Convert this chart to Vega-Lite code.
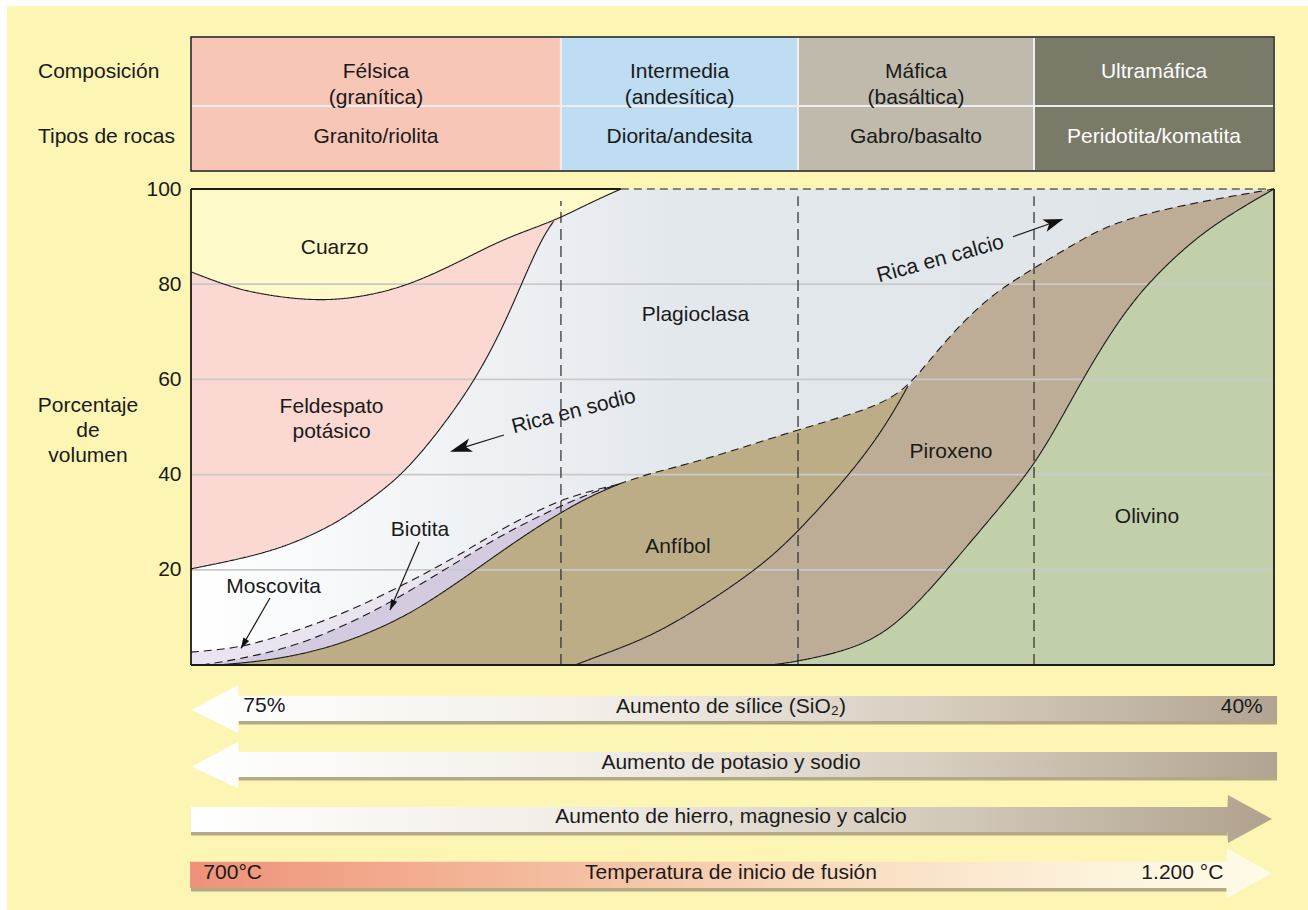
{
  "$schema": "https://vega.github.io/schema/vega-lite/v6.json",
  "width": 1308,
  "height": 910,
  "padding": 0,
  "autosize": {"type": "none"},
  "background": "#fdf5b3",
  "config": {
    "view": {"stroke": null},
    "font": "Liberation Sans",
    "text": {"font": "Liberation Sans", "fontSize": 21, "color": "#1a1a1a"}
  },
  "datasets": {
    "lines": [
      {"s": "Q", "kind": "sharp", "u": 0, "v": 82.6}, {"s": "Q", "kind": "sharp", "u": 2.59, "v": 80.3}, {"s": "Q", "kind": "sharp", "u": 5.68, "v": 78.1}, {"s": "Q", "kind": "sharp", "u": 11.51, "v": 76.3}, {"s": "Q", "kind": "sharp", "u": 16.16, "v": 77.4}, {"s": "Q", "kind": "sharp", "u": 20.4, "v": 80.0}, {"s": "Q", "kind": "sharp", "u": 25.12, "v": 85.1}, {"s": "Q", "kind": "sharp", "u": 28.99, "v": 89.7}, {"s": "Q", "kind": "sharp", "u": 33.47, "v": 93.2}, {"s": "Q", "kind": "sharp", "u": 36.75, "v": 97.0}, {"s": "Q", "kind": "sharp", "u": 39.69, "v": 100},
      {"s": "K", "kind": "sharp", "u": 0, "v": 20.2}, {"s": "K", "kind": "sharp", "u": 5.68, "v": 22.8}, {"s": "K", "kind": "sharp", "u": 9.57, "v": 25.6}, {"s": "K", "kind": "sharp", "u": 13.45, "v": 29.8}, {"s": "K", "kind": "sharp", "u": 16.53, "v": 34.7}, {"s": "K", "kind": "sharp", "u": 19.48, "v": 39.9}, {"s": "K", "kind": "sharp", "u": 22.78, "v": 48.7}, {"s": "K", "kind": "sharp", "u": 26.28, "v": 59.9}, {"s": "K", "kind": "sharp", "u": 28.99, "v": 71.8}, {"s": "K", "kind": "sharp", "u": 30.93, "v": 82.3}, {"s": "K", "kind": "sharp", "u": 32.5, "v": 90.0}, {"s": "K", "kind": "sharp", "u": 33.47, "v": 93.2},
      {"s": "M", "kind": "gradual", "u": 0, "v": 2.7}, {"s": "M", "kind": "gradual", "u": 4.13, "v": 3.5}, {"s": "M", "kind": "gradual", "u": 7.63, "v": 5.6}, {"s": "M", "kind": "gradual", "u": 13.45, "v": 10.1}, {"s": "M", "kind": "gradual", "u": 19.3, "v": 16.4}, {"s": "M", "kind": "gradual", "u": 25.12, "v": 23.5}, {"s": "M", "kind": "gradual", "u": 28.99, "v": 29.1}, {"s": "M", "kind": "gradual", "u": 34.07, "v": 34.7}, {"s": "M", "kind": "gradual", "u": 37.0, "v": 36.6}, {"s": "M", "kind": "gradual", "u": 39.5, "v": 38.0},
      {"s": "Bt", "kind": "gradual", "u": 1.0, "v": 0}, {"s": "Bt", "kind": "gradual", "u": 4.13, "v": 1.1}, {"s": "Bt", "kind": "gradual", "u": 9.57, "v": 3.8}, {"s": "Bt", "kind": "gradual", "u": 15.39, "v": 9.5}, {"s": "Bt", "kind": "gradual", "u": 19.3, "v": 14.3}, {"s": "Bt", "kind": "gradual", "u": 25.12, "v": 22.4}, {"s": "Bt", "kind": "gradual", "u": 28.99, "v": 27.7}, {"s": "Bt", "kind": "gradual", "u": 34.07, "v": 33.4}, {"s": "Bt", "kind": "gradual", "u": 37.0, "v": 36.2}, {"s": "Bt", "kind": "gradual", "u": 39.5, "v": 38.0},
      {"s": "A", "kind": "sharp", "u": 2.5, "v": 0}, {"s": "A", "kind": "sharp", "u": 7.63, "v": 1.0}, {"s": "A", "kind": "sharp", "u": 13.45, "v": 3.9}, {"s": "A", "kind": "sharp", "u": 19.3, "v": 9.5}, {"s": "A", "kind": "sharp", "u": 23.18, "v": 15.1}, {"s": "A", "kind": "sharp", "u": 26.28, "v": 20.0}, {"s": "A", "kind": "sharp", "u": 30.17, "v": 26.3}, {"s": "A", "kind": "sharp", "u": 34.07, "v": 32.0}, {"s": "A", "kind": "sharp", "u": 37.0, "v": 35.6}, {"s": "A", "kind": "sharp", "u": 39.5, "v": 38.0},
      {"s": "D", "kind": "gradual", "u": 39.5, "v": 38.0}, {"s": "D", "kind": "gradual", "u": 42.38, "v": 40.3}, {"s": "D", "kind": "gradual", "u": 47.0, "v": 42.8}, {"s": "D", "kind": "gradual", "u": 55.96, "v": 49.4}, {"s": "D", "kind": "gradual", "u": 61.77, "v": 53.2}, {"s": "D", "kind": "gradual", "u": 64.3, "v": 55.6}, {"s": "D", "kind": "gradual", "u": 66.2, "v": 58.6}, {"s": "D", "kind": "gradual", "u": 68.0, "v": 63.4}, {"s": "D", "kind": "gradual", "u": 70.27, "v": 69.7}, {"s": "D", "kind": "gradual", "u": 73.38, "v": 76.7}, {"s": "D", "kind": "gradual", "u": 76.08, "v": 80.9}, {"s": "D", "kind": "gradual", "u": 77.84, "v": 83.4}, {"s": "D", "kind": "gradual", "u": 81.13, "v": 87.9}, {"s": "D", "kind": "gradual", "u": 85.0, "v": 92.9}, {"s": "D", "kind": "gradual", "u": 90.82, "v": 96.3}, {"s": "D", "kind": "gradual", "u": 96.63, "v": 98.7}, {"s": "D", "kind": "gradual", "u": 100, "v": 100},
      {"s": "P", "kind": "sharp", "u": 35.46, "v": 0}, {"s": "P", "kind": "sharp", "u": 37.77, "v": 2.0}, {"s": "P", "kind": "sharp", "u": 42.38, "v": 5.9}, {"s": "P", "kind": "sharp", "u": 47.0, "v": 12.0}, {"s": "P", "kind": "sharp", "u": 52.45, "v": 20.4}, {"s": "P", "kind": "sharp", "u": 55.96, "v": 27.7}, {"s": "P", "kind": "sharp", "u": 60.94, "v": 40.3}, {"s": "P", "kind": "sharp", "u": 64.08, "v": 50.0}, {"s": "P", "kind": "sharp", "u": 66.2, "v": 58.6},
      {"s": "O", "kind": "sharp", "u": 53.5, "v": 0}, {"s": "O", "kind": "sharp", "u": 55.96, "v": 0.7}, {"s": "O", "kind": "sharp", "u": 61.77, "v": 3.6}, {"s": "O", "kind": "sharp", "u": 65.65, "v": 9.3}, {"s": "O", "kind": "sharp", "u": 69.9, "v": 20.2}, {"s": "O", "kind": "sharp", "u": 73.41, "v": 29.7}, {"s": "O", "kind": "sharp", "u": 77.29, "v": 40.2}, {"s": "O", "kind": "sharp", "u": 79.59, "v": 48.6}, {"s": "O", "kind": "sharp", "u": 82.27, "v": 59.8}, {"s": "O", "kind": "sharp", "u": 85.04, "v": 70.3}, {"s": "O", "kind": "sharp", "u": 88.09, "v": 79.8}, {"s": "O", "kind": "sharp", "u": 92.8, "v": 89.9}, {"s": "O", "kind": "sharp", "u": 96.63, "v": 95.6}, {"s": "O", "kind": "sharp", "u": 100, "v": 100}
    ],
    "cells": [
      {"grp": "Félsica", "u": 0, "u2": 34.16, "v": 131.94, "v2": 117.44, "uc": 17.08, "vc": 124.58, "label": "Félsica\n(granítica)"},
      {"grp": "Intermedia", "u": 34.16, "u2": 56.05, "v": 131.94, "v2": 117.44, "uc": 45.11, "vc": 124.58, "label": "Intermedia\n(andesítica)"},
      {"grp": "Máfica", "u": 56.05, "u2": 77.84, "v": 131.94, "v2": 117.44, "uc": 66.94, "vc": 124.58, "label": "Máfica\n(basáltica)"},
      {"grp": "Ultramáfica", "u": 77.84, "u2": 100, "v": 131.94, "v2": 117.44, "uc": 88.92, "vc": 124.58, "label": "Ultramáfica"},
      {"grp": "Félsica", "u": 0, "u2": 34.16, "v": 117.44, "v2": 103.78, "uc": 17.08, "vc": 110.93, "label": "Granito/riolita"},
      {"grp": "Intermedia", "u": 34.16, "u2": 56.05, "v": 117.44, "v2": 103.78, "uc": 45.11, "vc": 110.93, "label": "Diorita/andesita"},
      {"grp": "Máfica", "u": 56.05, "u2": 77.84, "v": 117.44, "v2": 103.78, "uc": 66.94, "vc": 110.93, "label": "Gabro/basalto"},
      {"grp": "Ultramáfica", "u": 77.84, "u2": 100, "v": 117.44, "v2": 103.78, "uc": 88.92, "vc": 110.93, "label": "Peridotita/komatita"}
    ]
  },
  "encoding": {
    "x": {"field": "u", "type": "quantitative", "scale": {"domain": [-17.636, 103.139], "nice": false, "zero": false}, "axis": null},
    "y": {"field": "v", "type": "quantitative", "scale": {"domain": [-51.47, 139.71], "nice": false, "zero": false},
      "axis": {"values": [20, 40, 60, 80, 100], "offset": -191, "domain": false, "ticks": false, "grid": false, "labelFontSize": 21, "labelFont": "Liberation Sans", "labelColor": "#1a1a1a", "labelPadding": 10, "title": null}}
  },
  "layer": [
    {
      "data": {"values": [{"u": -17.636, "u2": 103.139, "v": 139.71, "v2": 138.45}, {"u": -17.636, "u2": -16.99, "v": 139.71, "v2": -51.47}]},
      "mark": {"type": "rect", "color": "#ffffff"},
      "encoding": {"x2": {"field": "u2"}, "y2": {"field": "v2"}}
    },
    {
      "data": {"name": "cells"},
      "mark": {"type": "rect", "stroke": "#eeeeee", "strokeWidth": 2},
      "encoding": {
        "x2": {"field": "u2"}, "y2": {"field": "v2"},
        "color": {"field": "grp", "type": "nominal", "scale": {"domain": ["Félsica", "Intermedia", "Máfica", "Ultramáfica"], "range": ["#f8c6b7", "#bedcf2", "#bfbaab", "#7a7a69"]}, "legend": null}
      }
    },
    {
      "data": {"values": [{"u": 0, "u2": 100, "v": 131.94, "v2": 103.78}]},
      "mark": {"type": "rect", "fillOpacity": 0, "stroke": "#1a1a1a", "strokeWidth": 1.5},
      "encoding": {"x2": {"field": "u2"}, "y2": {"field": "v2"}}
    },
    {
      "data": {"name": "cells"},
      "mark": {"type": "text", "align": "center", "baseline": "middle", "lineBreak": "\n", "lineHeight": 26},
      "encoding": {
        "x": {"field": "uc", "type": "quantitative"}, "y": {"field": "vc", "type": "quantitative"},
        "text": {"field": "label"},
        "color": {"condition": {"test": "datum.grp === 'Ultramáfica'", "value": "#ffffff"}, "value": "#1a1a1a"}
      }
    },
    {
      "data": {"values": [{"u": -14.13, "v": 124.58, "t": "Composición"}, {"u": -14.13, "v": 110.93, "t": "Tipos de rocas"}]},
      "mark": {"type": "text", "align": "left", "baseline": "middle"},
      "encoding": {"text": {"field": "t"}}
    },
    {
      "data": {"values": [{"u": 0, "v": 100}, {"u": 100, "v": 100}]},
      "mark": {"type": "area", "color": "#fef9c8"},
      "encoding": {"y2": {"datum": 0}}
    },
    {
      "data": {"values": [{"u": 0, "v": 82.6}, {"u": 2.59, "v": 80.3}, {"u": 5.68, "v": 78.1}, {"u": 11.51, "v": 76.3}, {"u": 16.16, "v": 77.4}, {"u": 20.4, "v": 80.0}, {"u": 25.12, "v": 85.1}, {"u": 28.99, "v": 89.7}, {"u": 33.47, "v": 93.2}, {"u": 36.75, "v": 97.0}, {"u": 39.69, "v": 100}]},
      "mark": {"type": "area", "interpolate": "basis", "color": "#fbd8d2"},
      "encoding": {"y2": {"datum": 0}}
    },
    {
      "data": {"values": [{"u": 0, "v": 20.2}, {"u": 5.68, "v": 22.8}, {"u": 9.57, "v": 25.6}, {"u": 13.45, "v": 29.8}, {"u": 16.53, "v": 34.7}, {"u": 19.48, "v": 39.9}, {"u": 22.78, "v": 48.7}, {"u": 26.28, "v": 59.9}, {"u": 28.99, "v": 71.8}, {"u": 30.93, "v": 82.3}, {"u": 32.5, "v": 90.0}, {"u": 33.47, "v": 93.2}, {"u": 36.75, "v": 97.0}, {"u": 39.69, "v": 100}, {"u": 41, "v": 100}, {"u": 43, "v": 100}, {"u": 46, "v": 100}, {"u": 100, "v": 100}]},
      "mark": {"type": "area", "interpolate": "basis", "color": {"gradient": "linear", "x1": 0, "y1": 0, "x2": 1, "y2": 0, "stops": [{"offset": 0, "color": "#ffffff"}, {"offset": 0.45, "color": "#e3e8ed"}, {"offset": 1, "color": "#dfe4e9"}]}},
      "encoding": {"y2": {"datum": 0}}
    },
    {
      "data": {"values": [{"u": 0, "v": 2.7}, {"u": 4.13, "v": 3.5}, {"u": 7.63, "v": 5.6}, {"u": 13.45, "v": 10.1}, {"u": 19.3, "v": 16.4}, {"u": 25.12, "v": 23.5}, {"u": 28.99, "v": 29.1}, {"u": 34.07, "v": 34.7}, {"u": 37.0, "v": 36.6}, {"u": 39.5, "v": 38.0}]},
      "mark": {"type": "area", "interpolate": "basis", "color": "#e9e4ef"},
      "encoding": {"y2": {"datum": 0}}
    },
    {
      "data": {"values": [{"u": 1.0, "v": 0}, {"u": 4.13, "v": 1.1}, {"u": 9.57, "v": 3.8}, {"u": 15.39, "v": 9.5}, {"u": 19.3, "v": 14.3}, {"u": 25.12, "v": 22.4}, {"u": 28.99, "v": 27.7}, {"u": 34.07, "v": 33.4}, {"u": 37.0, "v": 36.2}, {"u": 39.5, "v": 38.0}]},
      "mark": {"type": "area", "interpolate": "basis", "color": "#d5cbe1"},
      "encoding": {"y2": {"datum": 0}}
    },
    {
      "data": {"values": [{"u": 2.5, "v": 0}, {"u": 7.63, "v": 1.0}, {"u": 13.45, "v": 3.9}, {"u": 19.3, "v": 9.5}, {"u": 23.18, "v": 15.1}, {"u": 26.28, "v": 20.0}, {"u": 30.17, "v": 26.3}, {"u": 34.07, "v": 32.0}, {"u": 37.0, "v": 35.6}, {"u": 39.5, "v": 38.0}, {"u": 42.38, "v": 40.3}, {"u": 47.0, "v": 42.8}, {"u": 55.96, "v": 49.4}, {"u": 61.77, "v": 53.2}, {"u": 64.3, "v": 55.6}, {"u": 66.2, "v": 58.6}]},
      "mark": {"type": "area", "interpolate": "basis", "color": "#bcad87"},
      "encoding": {"y2": {"datum": 0}}
    },
    {
      "data": {"values": [{"u": 35.46, "v": 0}, {"u": 37.77, "v": 2.0}, {"u": 42.38, "v": 5.9}, {"u": 47.0, "v": 12.0}, {"u": 52.45, "v": 20.4}, {"u": 55.96, "v": 27.7}, {"u": 60.94, "v": 40.3}, {"u": 64.08, "v": 50.0}, {"u": 66.2, "v": 58.6}, {"u": 68.0, "v": 63.4}, {"u": 70.27, "v": 69.7}, {"u": 73.38, "v": 76.7}, {"u": 76.08, "v": 80.9}, {"u": 77.84, "v": 83.4}, {"u": 81.13, "v": 87.9}, {"u": 85.0, "v": 92.9}, {"u": 90.82, "v": 96.3}, {"u": 96.63, "v": 98.7}, {"u": 100, "v": 100}]},
      "mark": {"type": "area", "interpolate": "basis", "color": "#bdad97"},
      "encoding": {"y2": {"datum": 0}}
    },
    {
      "data": {"values": [{"u": 53.5, "v": 0}, {"u": 55.96, "v": 0.7}, {"u": 61.77, "v": 3.6}, {"u": 65.65, "v": 9.3}, {"u": 69.9, "v": 20.2}, {"u": 73.41, "v": 29.7}, {"u": 77.29, "v": 40.2}, {"u": 79.59, "v": 48.6}, {"u": 82.27, "v": 59.8}, {"u": 85.04, "v": 70.3}, {"u": 88.09, "v": 79.8}, {"u": 92.8, "v": 89.9}, {"u": 96.63, "v": 95.6}, {"u": 100, "v": 100}]},
      "mark": {"type": "area", "interpolate": "basis", "color": "#c1cfaa"},
      "encoding": {"y2": {"datum": 0}}
    },
    {
      "data": {"values": [{"u": 0, "u2": 100, "v": 20}, {"u": 0, "u2": 100, "v": 40}, {"u": 0, "u2": 100, "v": 60}, {"u": 0, "u2": 100, "v": 80}]},
      "mark": {"type": "rule", "color": "#c9c9c9", "strokeWidth": 1.8},
      "encoding": {"x2": {"field": "u2"}}
    },
    {
      "data": {"values": [{"u": 34.16, "v": 0, "v2": 97.5}, {"u": 56.05, "v": 0, "v2": 98.5}, {"u": 77.84, "v": 0, "v2": 98.5}]},
      "mark": {"type": "rule", "color": "#2a2a2a", "strokeWidth": 1.2, "strokeDash": [11, 6]},
      "encoding": {"y2": {"field": "v2"}}
    },
    {
      "data": {"name": "lines"},
      "mark": {"type": "line", "interpolate": "basis", "color": "#1a1a1a", "strokeWidth": 1.1},
      "encoding": {
        "detail": {"field": "s"},
        "strokeDash": {"field": "kind", "type": "nominal", "scale": {"domain": ["sharp", "gradual"], "range": [[1, 0], [8, 5]]}, "legend": null}
      }
    },
    {
      "data": {"values": [{"u": 0, "u2": 0, "v": 0, "v2": 100}, {"u": 100, "u2": 100, "v": 0, "v2": 100}, {"u": 0, "u2": 100, "v": 0, "v2": 0}, {"u": 0, "u2": 39.69, "v": 100, "v2": 100}]},
      "mark": {"type": "rule", "color": "#1a1a1a", "strokeWidth": 1.8},
      "encoding": {"x2": {"field": "u2"}, "y2": {"field": "v2"}}
    },
    {
      "data": {"values": [{"u": 39.69, "u2": 100, "v": 100}]},
      "mark": {"type": "rule", "color": "#1a1a1a", "strokeWidth": 1.2, "strokeDash": [8, 5]},
      "encoding": {"x2": {"field": "u2"}}
    },
    {
      "data": {"values": [
        {"u": 13.26, "v": 87.54, "t": "Cuarzo"},
        {"u": 12.98, "v": 54.24, "t": "Feldespato\npotásico"},
        {"u": 46.58, "v": 73.53, "t": "Plagioclasa"},
        {"u": 7.63, "v": 16.3, "t": "Moscovita"},
        {"u": 21.15, "v": 28.36, "t": "Biotita"},
        {"u": 44.97, "v": 24.8, "t": "Anfíbol"},
        {"u": 70.18, "v": 44.81, "t": "Piroxeno"},
        {"u": 88.27, "v": 31.16, "t": "Olivino"},
        {"u": -9.51, "v": 54.35, "t": "Porcentaje\nde\nvolumen"}
      ]},
      "mark": {"type": "text", "align": "center", "baseline": "middle", "lineBreak": "\n", "lineHeight": 25},
      "encoding": {"text": {"field": "t"}}
    },
    {
      "data": {"values": [{"u": 35.34, "v": 53.19, "t": "Rica en sodio"}]},
      "mark": {"type": "text", "align": "center", "baseline": "middle", "angle": -14.5},
      "encoding": {"text": {"field": "t"}}
    },
    {
      "data": {"values": [{"u": 69.2, "v": 85.23, "t": "Rica en calcio"}]},
      "mark": {"type": "text", "align": "center", "baseline": "middle", "angle": -15.4},
      "encoding": {"text": {"field": "t"}}
    },
    {
      "data": {"values": [
        {"a": "sodio", "u": 28.9, "v": 48.32}, {"a": "sodio", "u": 24.885, "v": 45.51},
        {"a": "calcio", "u": 75.9, "v": 89.98}, {"a": "calcio", "u": 79.68, "v": 93.01},
        {"a": "mosc", "u": 7.29, "v": 14.08}, {"a": "mosc", "u": 4.62, "v": 3.51},
        {"a": "biot", "u": 21.08, "v": 25.9}, {"a": "biot", "u": 18.375, "v": 11.56}
      ]},
      "mark": {"type": "line", "color": "#1a1a1a", "strokeWidth": 1.2},
      "encoding": {"detail": {"field": "a"}}
    },
    {
      "data": {"values": [{"u": 24.885, "v": 45.51}]},
      "mark": {"type": "point", "shape": "M1,0L-1,-0.62L-0.5,0L-1,0.62Z", "filled": true, "color": "#111111", "opacity": 1, "size": 484, "angle": 162.8, "strokeWidth": 0}
    },
    {
      "data": {"values": [{"u": 79.68, "v": 93.01}]},
      "mark": {"type": "point", "shape": "M1,0L-1,-0.65L-0.5,0L-1,0.65Z", "filled": true, "color": "#111111", "opacity": 1, "size": 400, "angle": -19.4, "strokeWidth": 0}
    },
    {
      "data": {"values": [{"u": 4.85, "v": 4.41}]},
      "mark": {"type": "point", "shape": "M1,0L-1,-0.6L-1,0.6Z", "filled": true, "color": "#111111", "opacity": 1, "size": 121, "angle": 120.0, "strokeWidth": 0}
    },
    {
      "data": {"values": [{"u": 18.56, "v": 12.52}]},
      "mark": {"type": "point", "shape": "M1,0L-1,-0.6L-1,0.6Z", "filled": true, "color": "#111111", "opacity": 1, "size": 121, "angle": 113.2, "strokeWidth": 0}
    },
    {
      "data": {"values": [
        {"a": "a1", "u": 4.4, "v": -12.08}, {"a": "a1", "u": 100.28, "v": -12.08},
        {"a": "a2", "u": 4.4, "v": -23.85}, {"a": "a2", "u": 100.28, "v": -23.85},
        {"a": "a3", "u": 0, "v": -35.4}, {"a": "a3", "u": 95.7, "v": -35.4},
        {"a": "a4", "u": 0, "v": -47.17}, {"a": "a4", "u": 95.66, "v": -47.17}
      ]},
      "mark": {"type": "line", "color": "#a0967c", "strokeWidth": 4, "opacity": 0.8},
      "encoding": {"detail": {"field": "a"}}
    },
    {
      "data": {"values": [{"u": 0.065, "v": -9.45, "b": -9.45}, {"u": 4.34, "v": -4.2, "b": -14.29}, {"u": 4.4, "v": -6.52, "b": -11.76}, {"u": 100.28, "v": -6.52, "b": -11.76}]},
      "mark": {"type": "area", "interpolate": "linear", "color": {"gradient": "linear", "x1": 0, "y1": 0, "x2": 1, "y2": 0, "stops": [{"offset": 0, "color": "#ffffff"}, {"offset": 0.35, "color": "#f3f0ea"}, {"offset": 0.7, "color": "#d6ccbe"}, {"offset": 1, "color": "#b2a492"}]}},
      "encoding": {"y2": {"field": "b"}}
    },
    {
      "data": {"values": [{"u": 0.065, "v": -21.36, "b": -21.36}, {"u": 4.34, "v": -16.11, "b": -25.84}, {"u": 4.4, "v": -18.28, "b": -23.53}, {"u": 100.28, "v": -18.28, "b": -23.53}]},
      "mark": {"type": "area", "interpolate": "linear", "color": {"gradient": "linear", "x1": 0, "y1": 0, "x2": 1, "y2": 0, "stops": [{"offset": 0, "color": "#ffffff"}, {"offset": 0.35, "color": "#f3f0ea"}, {"offset": 0.7, "color": "#d6ccbe"}, {"offset": 1, "color": "#b2a492"}]}},
      "encoding": {"y2": {"field": "b"}}
    },
    {
      "data": {"values": [{"u": 0, "v": -29.83, "b": -35.08}, {"u": 95.7, "v": -29.83, "b": -35.08}, {"u": 95.75, "v": -27.31, "b": -37.4}, {"u": 99.81, "v": -32.35, "b": -32.35}]},
      "mark": {"type": "area", "interpolate": "linear", "color": {"gradient": "linear", "x1": 0, "y1": 0, "x2": 1, "y2": 0, "stops": [{"offset": 0, "color": "#ffffff"}, {"offset": 0.35, "color": "#f1ede6"}, {"offset": 0.7, "color": "#d3c9ba"}, {"offset": 1, "color": "#b0a28e"}]}},
      "encoding": {"y2": {"field": "b"}}
    },
    {
      "data": {"values": [{"u": -0.09, "v": -41.33, "b": -46.85}, {"u": 95.6, "v": -41.33, "b": -46.85}, {"u": 95.66, "v": -38.51, "b": -49.01}, {"u": 99.79, "v": -43.76, "b": -43.76}]},
      "mark": {"type": "area", "interpolate": "linear", "color": {"gradient": "linear", "x1": 0, "y1": 0, "x2": 1, "y2": 0, "stops": [{"offset": 0, "color": "#ee9279"}, {"offset": 0.3, "color": "#f4b89a"}, {"offset": 0.6, "color": "#f9dcc0"}, {"offset": 0.85, "color": "#fdf3dc"}, {"offset": 1, "color": "#fefbe8"}]}},
      "encoding": {"y2": {"field": "b"}}
    },
    {
      "data": {"values": [
        {"u": 49.86, "v": -8.76, "t": "Aumento de sílice (SiO₂)"},
        {"u": 49.86, "v": -20.65, "t": "Aumento de potasio y sodio"},
        {"u": 49.86, "v": -31.87, "t": "Aumento de hierro, magnesio y calcio"},
        {"u": 49.86, "v": -43.64, "t": "Temperatura de inicio de fusión"}
      ]},
      "mark": {"type": "text", "align": "center", "baseline": "middle"},
      "encoding": {"text": {"field": "t"}}
    },
    {
      "data": {"values": [{"u": 4.83, "v": -8.61, "t": "75%"}, {"u": 1.14, "v": -43.64, "t": "700°C"}]},
      "mark": {"type": "text", "align": "left", "baseline": "middle"},
      "encoding": {"text": {"field": "t"}}
    },
    {
      "data": {"values": [{"u": 98.96, "v": -8.76, "t": "40%"}, {"u": 95.32, "v": -43.64, "t": "1.200 °C"}]},
      "mark": {"type": "text", "align": "right", "baseline": "middle"},
      "encoding": {"text": {"field": "t"}}
    }
  ]
}
